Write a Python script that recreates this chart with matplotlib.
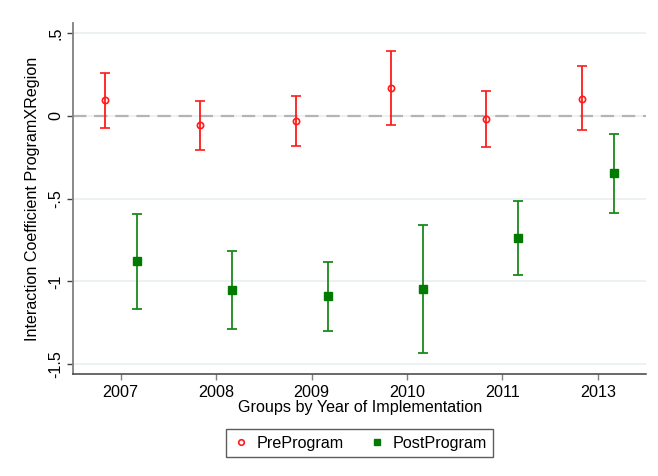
import matplotlib
matplotlib.use("Agg")
import matplotlib.pyplot as plt
from matplotlib.lines import Line2D
import numpy as np

plt.rcParams['font.family'] = ['Liberation Sans', 'DejaVu Sans']

groups = ["2007", "2008", "2009", "2010", "2011", "2013"]
pre_coef = [0.097, -0.054, -0.028, 0.171, -0.018, 0.105]
pre_hi = [0.262, 0.093, 0.121, 0.395, 0.151, 0.302]
pre_lo = [-0.071, -0.206, -0.181, -0.054, -0.190, -0.083]
post_coef = [-0.879, -1.050, -1.091, -1.044, -0.736, -0.345]
post_hi = [-0.593, -0.815, -0.885, -0.659, -0.516, -0.109]
post_lo = [-1.169, -1.286, -1.300, -1.435, -0.962, -0.585]
yticks = [0.5, 0, -0.5, -1, -1.5]
yticklabels = [".5", "0", "-.5", "-1", "-1.5"]

x = np.arange(1, len(groups) + 1)
off = 0.168
FS = 11.6

fig = plt.figure(figsize=(6.58, 4.76), dpi=100)
ax = fig.add_axes([73/658, (476-374)/476, (645.6-73)/658, (374-23.3)/476])

for yv in yticks:
    ax.axhline(yv, color='#eaf1f3', lw=1.3, zorder=0)
ax.axhline(0, color='#b4b4b4', lw=1.6, ls=(0, (6, 3.5)), zorder=1)

pre = np.array(pre_coef); post = np.array(post_coef)
ax.errorbar(x - off, pre, yerr=[pre - np.array(pre_lo), np.array(pre_hi) - pre],
            fmt='o', color='#ff1a1a', ecolor='#ff1a1a', elinewidth=1.3, capsize=3.8, capthick=1.3,
            markersize=4.5, markerfacecolor='none', markeredgewidth=1.2, zorder=3)
ax.errorbar(x + off, post, yerr=[post - np.array(post_lo), np.array(post_hi) - post],
            fmt='s', color='#007a00', ecolor='#1a8a1a', elinewidth=1.3, capsize=3.8, capthick=1.3,
            markersize=5.5, zorder=3)

ax.set_xlim(0.5, 6.5)
ax.set_ylim(-1.56, 0.56)
ax.set_xticks(x)
ax.set_xticklabels(groups)
ax.set_yticks(yticks)
ax.set_yticklabels(yticklabels, rotation=90, va='center')

for s in ['top', 'right']:
    ax.spines[s].set_visible(False)
ax.spines['left'].set_color('#808080')
ax.spines['left'].set_linewidth(1.3)
ax.spines['bottom'].set_color('#404040')
ax.spines['bottom'].set_linewidth(1.1)
ax.tick_params(axis='y', length=4, width=1, color='#404040', pad=3, labelsize=FS)
ax.tick_params(axis='x', length=4, width=1, color='#808080', pad=4, labelsize=FS)

ax.set_ylabel("Interaction Coefficient ProgramXRegion", fontsize=FS)
ax.yaxis.set_label_coords(-0.057, 0.5)
ax.set_xlabel("Groups by Year of Implementation", fontsize=FS)
ax.xaxis.set_label_coords(0.501, -0.074)

handles = [Line2D([], [], ls='none', marker='o', color='#ff1a1a', markerfacecolor='none',
                  markersize=4, markeredgewidth=1.2),
           Line2D([], [], ls='none', marker='s', color='#007a00', markersize=5)]
leg = fig.legend(handles, ["PreProgram", "PostProgram"], loc='center',
                 bbox_to_anchor=(0.547, 0.069), ncol=2, frameon=True, fancybox=False,
                 edgecolor='#333333', fontsize=FS, handlelength=1.0, handletextpad=0.5,
                 columnspacing=1.5, borderpad=0.4)
leg.get_frame().set_linewidth(1.0)

fig.savefig("out.png", dpi=100)
